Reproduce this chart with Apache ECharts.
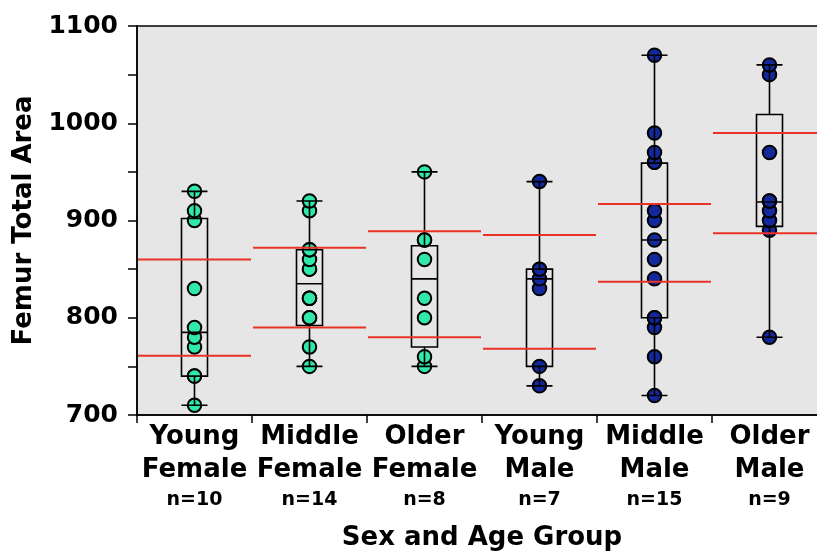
<!DOCTYPE html>
<html>
<head>
<meta charset="utf-8">
<script src="https://cdn.jsdelivr.net/npm/echarts@6/dist/echarts.min.js"></script>
<style>html,body{margin:0;padding:0;background:#fff}#c{width:817px;height:552px}</style>
</head>
<body>
<div id="c"></div>
<script>
// ---- data ----
const catLine1 = ['Young', 'Middle', 'Older', 'Young', 'Middle', 'Older'];
const catLine2 = ['Female', 'Female', 'Female', 'Male', 'Male', 'Male'];
const youngFemale  = [710, 740, 740, 770, 780, 790, 830, 900, 910, 930];
const middleFemale = [750, 770, 800, 800, 820, 820, 820, 850, 850, 860, 870, 870, 910, 920];
const olderFemale  = [750, 760, 800, 820, 860, 880, 880, 950];
const youngMale    = [730, 750, 830, 840, 850, 850, 940];
const middleMale   = [720, 760, 790, 800, 800, 840, 860, 880, 900, 910, 960, 960, 970, 990, 1070];
const olderMale    = [780, 890, 900, 910, 920, 920, 970, 1050, 1060];
// box stats [min, Q1, median, Q3, max]
const boxYoungFemale  = [710, 740, 785, 902, 930];
const boxMiddleFemale = [750, 792, 835, 870, 920];
const boxOlderFemale  = [750, 770, 840, 874, 950];
const boxYoungMale    = [730, 750, 840, 850, 940];
const boxMiddleMale   = [720, 800, 880, 959, 1070];
const boxOlderMale    = [780, 894, 919, 1009, 1060];
// red reference lines
const redUpper = [860, 872, 889, 885, 917, 990];
const redLower = [761, 790, 780, 768, 837, 887];
const yTicks = [700, 800, 900, 1000, 1100];

const groups = [youngFemale, middleFemale, olderFemale, youngMale, middleMale, olderMale];
const boxes = [boxYoungFemale, boxMiddleFemale, boxOlderFemale, boxYoungMale, boxMiddleMale, boxOlderMale];
const femaleColor = '#30e8a8';
const maleColor = '#13289c';

const femalePts = [], malePts = [];
groups.forEach((g, i) => g.forEach(v => (i < 3 ? femalePts : malePts).push([i, v])));
const redData = [];
redUpper.forEach((v, i) => redData.push([i, v]));
redLower.forEach((v, i) => redData.push([i, v]));

const font = 'DejaVu Sans';
const chart = echarts.init(document.getElementById('c'), null, {renderer: 'canvas'});
chart.setOption({
  animation: false,
  grid: {left: 137, width: 690, top: 26, bottom: 137, outerBoundsMode: 'none', containLabel: false,
         show: true, backgroundColor: '#e6e6e6', borderColor: '#000', borderWidth: 1.5},
  xAxis: {
    type: 'category',
    data: catLine1.map((c, i) => c + ' ' + catLine2[i]),
    boundaryGap: true,
    axisLine: {lineStyle: {color: '#000', width: 1.5}},
    axisTick: {show: true, length: 8, lineStyle: {color: '#000', width: 1.5}},
    axisLabel: {
      margin: 6,
      interval: 0,
      hideOverlap: false,
      formatter: (v, idx) => '{a|' + catLine1[idx] + '}\n{a|' + catLine2[idx] + '}\n{b|n=' + groups[idx].length + '}',
      rich: {
        a: {fontFamily: font, fontWeight: 'bold', fontSize: 26, lineHeight: 33, color: '#000'},
        b: {fontFamily: font, fontWeight: 'bold', fontSize: 19, lineHeight: 26, color: '#000'}
      }
    },
    name: 'Sex and Age Group',
    nameLocation: 'middle',
    nameGap: 110,
    nameTextStyle: {fontFamily: font, fontWeight: 'bold', fontSize: 26, color: '#000'}
  },
  yAxis: {
    type: 'value',
    min: 700, max: 1100, interval: 50,
    axisLine: {show: true, lineStyle: {color: '#000', width: 1.5}},
    axisTick: {show: true, length: 9, lineStyle: {color: '#000', width: 1.5}},
    splitLine: {show: false},
    axisLabel: {
      margin: 19,
      fontFamily: font, fontWeight: 'bold', fontSize: 25, color: '#000',
      formatter: v => yTicks.indexOf(v) >= 0 ? String(v) : ''
    },
    name: 'Femur Total Area',
    nameLocation: 'middle',
    nameRotate: 90,
    nameGap: 96,
    nameTextStyle: {fontFamily: font, fontWeight: 'bold', fontSize: 26, color: '#000'}
  },
  series: [
    {
      type: 'scatter', data: femalePts, symbolSize: 13.5, z: 2,
      itemStyle: {color: femaleColor, borderColor: '#000', borderWidth: 2, opacity: 1}
    },
    {
      type: 'scatter', data: malePts, symbolSize: 13.5, z: 2,
      itemStyle: {color: maleColor, borderColor: '#000', borderWidth: 2, opacity: 1}
    },
    {
      type: 'boxplot', data: boxes, boxWidth: [26, 26], z: 3,
      itemStyle: {color: 'rgba(0,0,0,0)', borderColor: '#000', borderWidth: 1.6},
      emphasis: {disabled: true}
    },
    {
      type: 'custom', data: redData, z: 4,
      renderItem: (params, api) => {
        const p = api.coord([api.value(0), api.value(1)]);
        const w = api.size([1, 0])[0];
        return {
          type: 'line',
          shape: {x1: p[0] - w / 2 + 1, y1: p[1], x2: p[0] + w / 2 - 1, y2: p[1]},
          style: {stroke: '#ea3326', lineWidth: 2}
        };
      }
    }
  ]
});
</script>
</body>
</html>
